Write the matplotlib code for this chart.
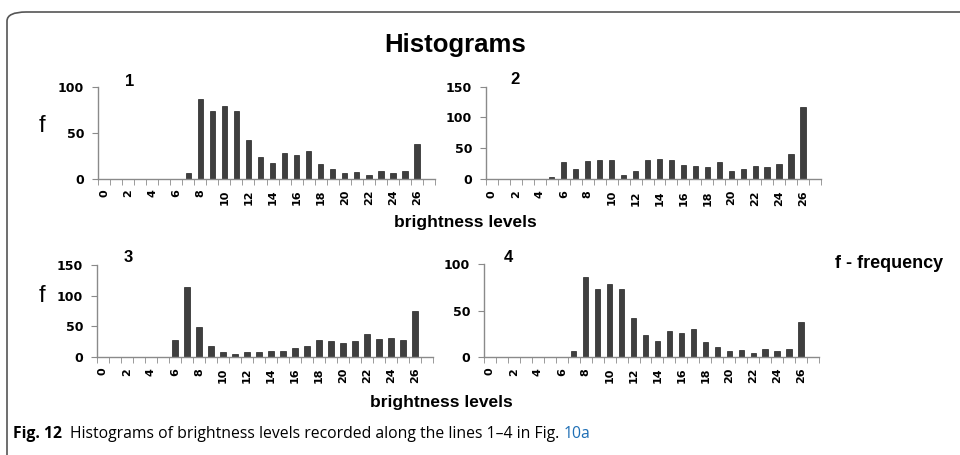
import numpy as np
import matplotlib.pyplot as plt
from matplotlib.patches import FancyBboxPatch

# brightness levels 0..27 (27 is the empty last category)
levels = np.arange(28)
tick_labels = [str(v) if v % 2 == 0 and v <= 26 else "" for v in levels]

hist1 = [0, 0, 0, 0, 0, 0, 0, 6, 86, 73, 79, 73, 42, 23, 17, 28, 26, 30, 16, 10, 6, 7, 4, 8, 6, 8, 38, 0]
hist2 = [0, 0, 0, 0, 0, 3, 27, 16, 29, 31, 31, 7, 13, 31, 33, 31, 23, 21, 19, 27, 13, 17, 21, 19, 25, 41, 117, 0]
hist3 = [0, 0, 0, 0, 0, 0, 27, 114, 49, 18, 7, 4, 8, 7, 10, 10, 15, 17, 27, 25, 22, 25, 37, 29, 31, 27, 75, 0]
hist4 = [0, 0, 0, 0, 0, 0, 0, 6, 86, 73, 79, 73, 42, 23, 17, 28, 26, 30, 16, 10, 6, 7, 4, 8, 6, 8, 38, 0]

panel_names = ["1", "2", "3", "4"]
y_max = [100, 150, 150, 100]

plt.rcParams['font.family'] = ['Liberation Sans', 'DejaVu Sans']

fig = plt.figure(figsize=(9.6, 4.55), dpi=100)

# 面板位置 (像素 -> 比例)
W, H = 960, 455
boxes = [(98, 435, 86.5, 178.5), (486, 821, 86.7, 179), (97, 433, 265, 356.7), (484, 819, 264.3, 356.7)]

bar_color = "#3f3f3f"
axis_color = "#8a8a8a"

for hist, name, ym, (x0, x1, yt, yb) in zip([hist1, hist2, hist3, hist4], panel_names, y_max, boxes):
    ax = fig.add_axes([x0 / W, 1 - yb / H, (x1 - x0) / W, (yb - yt) / H])
    ax.bar(levels, hist, width=0.45, color=bar_color, edgecolor="#222222", linewidth=0.5)
    ax.set_xlim(-0.5, 27.5)
    ax.set_ylim(0, ym)
    ax.set_yticks(np.arange(0, ym + 1, 50))
    ax.set_xticks(levels)
    ax.set_xticklabels(tick_labels, rotation=90, fontsize=8, fontweight="bold", family="DejaVu Sans")
    ax.set_xticks(np.arange(-0.5, 28, 1), minor=True)
    ax.tick_params(axis="x", which="major", length=0, pad=8)
    ax.tick_params(axis="x", which="minor", length=4, color=axis_color, direction="out")
    ax.tick_params(axis="y", length=4, color=axis_color, pad=6)
    for lab in ax.get_yticklabels():
        lab.set_fontweight("bold")
        lab.set_family("DejaVu Sans")
        lab.set_fontsize(9)
    for s in ["top", "right"]:
        ax.spines[s].set_visible(False)
    for s in ["left", "bottom"]:
        ax.spines[s].set_color(axis_color)
        ax.spines[s].set_linewidth(1.0)

# 外框 (圆角)
frame = FancyBboxPatch((7 / W, -0.1), 1.2, 1 - 12 / H + 0.1,
                       boxstyle="round,pad=0,rounding_size=0.02",
                       transform=fig.transFigure, fill=False,
                       edgecolor="#555555", linewidth=1.2, clip_on=False)
fig.patches.append(frame)

fig.text(455 / W, 1 - 45 / H, "Histograms", ha="center", va="center", fontsize=18.5, fontweight="bold")

# 面板编号
for txt, (px, py) in zip(panel_names, [(130, 82), (515, 80), (128, 258), (508, 258)]):
    fig.text(px / W, 1 - py / H, txt, ha="center", va="center", fontsize=12, fontweight="bold")

fig.text(42 / W, 1 - 126 / H, "f", ha="center", va="center", fontsize=17)
fig.text(42 / W, 1 - 296 / H, "f", ha="center", va="center", fontsize=17)

fig.text(465 / W, 1 - 222 / H, "brightness levels", ha="center", va="center", fontsize=12.5, fontweight="bold")
fig.text(441 / W, 1 - 403 / H, "brightness levels", ha="center", va="center", fontsize=12.5, fontweight="bold")
fig.text(835 / W, 1 - 263 / H, "f - frequency", ha="left", va="center", fontsize=13, fontweight="bold")

# 图注
renderer = fig.canvas.get_renderer()
t1 = fig.text(13 / W, 1 - 434 / H, "Fig. 12", ha="left", va="center", fontsize=11.3,
              fontweight="bold", family=["Open Sans", "DejaVu Sans"])
x_next = t1.get_window_extent(renderer).x1 + 8
t2 = fig.text(x_next / W, 1 - 434 / H,
              "Histograms of brightness levels recorded along the lines 1\u20134 in Fig. ",
              ha="left", va="center", fontsize=11.3, family=["Open Sans", "DejaVu Sans"])
x_next = t2.get_window_extent(renderer).x1
fig.text(x_next / W, 1 - 434 / H, "10a", ha="left", va="center", fontsize=11.3,
         color="#1f6fb5", family=["Open Sans", "DejaVu Sans"])

fig.savefig("out.png", dpi=100)
